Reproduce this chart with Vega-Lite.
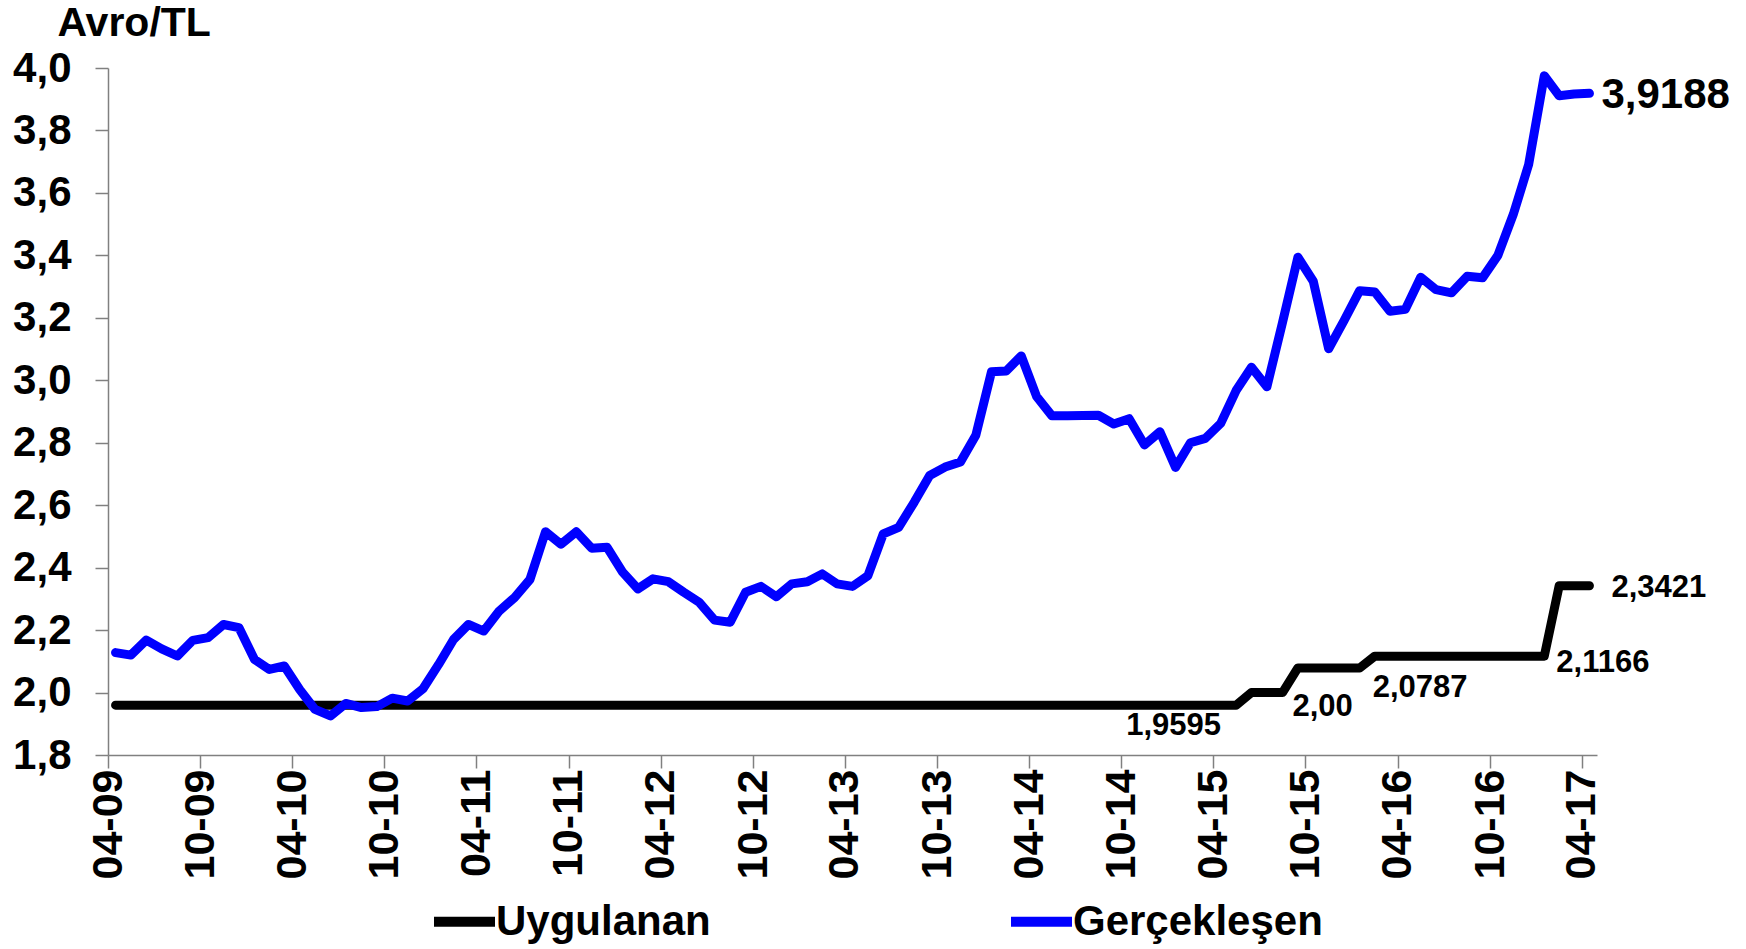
{
  "$schema": "https://vega.github.io/schema/vega-lite/v6.json",
  "width": 1489,
  "height": 687,
  "autosize": {"type": "none"},
  "padding": {"left": 108, "top": 68, "right": 149, "bottom": 194},
  "background": "white",
  "config": {
    "font": "Liberation Sans",
    "view": {"stroke": null},
    "axis": {"grid": false, "labelColor": "black", "labelFontWeight": "bold", "domainColor": "#808080", "tickColor": "#808080", "domainWidth": 1.5, "tickWidth": 1.5}
  },
  "datasets": {
    "kur": [
      {"date": "2009-04", "Uygulanan": 1.9595, "Gerçekleşen": 2.128},
      {"date": "2009-05", "Uygulanan": 1.9595, "Gerçekleşen": 2.120},
      {"date": "2009-06", "Uygulanan": 1.9595, "Gerçekleşen": 2.168},
      {"date": "2009-07", "Uygulanan": 1.9595, "Gerçekleşen": 2.140},
      {"date": "2009-08", "Uygulanan": 1.9595, "Gerçekleşen": 2.117},
      {"date": "2009-09", "Uygulanan": 1.9595, "Gerçekleşen": 2.167},
      {"date": "2009-10", "Uygulanan": 1.9595, "Gerçekleşen": 2.176},
      {"date": "2009-11", "Uygulanan": 1.9595, "Gerçekleşen": 2.218},
      {"date": "2009-12", "Uygulanan": 1.9595, "Gerçekleşen": 2.208},
      {"date": "2010-01", "Uygulanan": 1.9595, "Gerçekleşen": 2.106},
      {"date": "2010-02", "Uygulanan": 1.9595, "Gerçekleşen": 2.074},
      {"date": "2010-03", "Uygulanan": 1.9595, "Gerçekleşen": 2.085},
      {"date": "2010-04", "Uygulanan": 1.9595, "Gerçekleşen": 2.010},
      {"date": "2010-05", "Uygulanan": 1.9595, "Gerçekleşen": 1.946},
      {"date": "2010-06", "Uygulanan": 1.9595, "Gerçekleşen": 1.925},
      {"date": "2010-07", "Uygulanan": 1.9595, "Gerçekleşen": 1.965},
      {"date": "2010-08", "Uygulanan": 1.9595, "Gerçekleşen": 1.952},
      {"date": "2010-09", "Uygulanan": 1.9595, "Gerçekleşen": 1.955},
      {"date": "2010-10", "Uygulanan": 1.9595, "Gerçekleşen": 1.982},
      {"date": "2010-11", "Uygulanan": 1.9595, "Gerçekleşen": 1.973},
      {"date": "2010-12", "Uygulanan": 1.9595, "Gerçekleşen": 2.012},
      {"date": "2011-01", "Uygulanan": 1.9595, "Gerçekleşen": 2.090},
      {"date": "2011-02", "Uygulanan": 1.9595, "Gerçekleşen": 2.170},
      {"date": "2011-03", "Uygulanan": 1.9595, "Gerçekleşen": 2.218},
      {"date": "2011-04", "Uygulanan": 1.9595, "Gerçekleşen": 2.197},
      {"date": "2011-05", "Uygulanan": 1.9595, "Gerçekleşen": 2.261},
      {"date": "2011-06", "Uygulanan": 1.9595, "Gerçekleşen": 2.304},
      {"date": "2011-07", "Uygulanan": 1.9595, "Gerçekleşen": 2.362},
      {"date": "2011-08", "Uygulanan": 1.9595, "Gerçekleşen": 2.515},
      {"date": "2011-09", "Uygulanan": 1.9595, "Gerçekleşen": 2.475},
      {"date": "2011-10", "Uygulanan": 1.9595, "Gerçekleşen": 2.515},
      {"date": "2011-11", "Uygulanan": 1.9595, "Gerçekleşen": 2.462},
      {"date": "2011-12", "Uygulanan": 1.9595, "Gerçekleşen": 2.465},
      {"date": "2012-01", "Uygulanan": 1.9595, "Gerçekleşen": 2.385},
      {"date": "2012-02", "Uygulanan": 1.9595, "Gerçekleşen": 2.332},
      {"date": "2012-03", "Uygulanan": 1.9595, "Gerçekleşen": 2.364},
      {"date": "2012-04", "Uygulanan": 1.9595, "Gerçekleşen": 2.355},
      {"date": "2012-05", "Uygulanan": 1.9595, "Gerçekleşen": 2.321},
      {"date": "2012-06", "Uygulanan": 1.9595, "Gerçekleşen": 2.289},
      {"date": "2012-07", "Uygulanan": 1.9595, "Gerçekleşen": 2.232},
      {"date": "2012-08", "Uygulanan": 1.9595, "Gerçekleşen": 2.225},
      {"date": "2012-09", "Uygulanan": 1.9595, "Gerçekleşen": 2.321},
      {"date": "2012-10", "Uygulanan": 1.9595, "Gerçekleşen": 2.340},
      {"date": "2012-11", "Uygulanan": 1.9595, "Gerçekleşen": 2.307},
      {"date": "2012-12", "Uygulanan": 1.9595, "Gerçekleşen": 2.348},
      {"date": "2013-01", "Uygulanan": 1.9595, "Gerçekleşen": 2.355},
      {"date": "2013-02", "Uygulanan": 1.9595, "Gerçekleşen": 2.380},
      {"date": "2013-03", "Uygulanan": 1.9595, "Gerçekleşen": 2.348},
      {"date": "2013-04", "Uygulanan": 1.9595, "Gerçekleşen": 2.340},
      {"date": "2013-05", "Uygulanan": 1.9595, "Gerçekleşen": 2.374},
      {"date": "2013-06", "Uygulanan": 1.9595, "Gerçekleşen": 2.508},
      {"date": "2013-07", "Uygulanan": 1.9595, "Gerçekleşen": 2.529},
      {"date": "2013-08", "Uygulanan": 1.9595, "Gerçekleşen": 2.610},
      {"date": "2013-09", "Uygulanan": 1.9595, "Gerçekleşen": 2.695},
      {"date": "2013-10", "Uygulanan": 1.9595, "Gerçekleşen": 2.722},
      {"date": "2013-11", "Uygulanan": 1.9595, "Gerçekleşen": 2.738},
      {"date": "2013-12", "Uygulanan": 1.9595, "Gerçekleşen": 2.824},
      {"date": "2014-01", "Uygulanan": 1.9595, "Gerçekleşen": 3.027},
      {"date": "2014-02", "Uygulanan": 1.9595, "Gerçekleşen": 3.030},
      {"date": "2014-03", "Uygulanan": 1.9595, "Gerçekleşen": 3.078},
      {"date": "2014-04", "Uygulanan": 1.9595, "Gerçekleşen": 2.948},
      {"date": "2014-05", "Uygulanan": 1.9595, "Gerçekleşen": 2.886},
      {"date": "2014-06", "Uygulanan": 1.9595, "Gerçekleşen": 2.886},
      {"date": "2014-07", "Uygulanan": 1.9595, "Gerçekleşen": 2.887},
      {"date": "2014-08", "Uygulanan": 1.9595, "Gerçekleşen": 2.888},
      {"date": "2014-09", "Uygulanan": 1.9595, "Gerçekleşen": 2.860},
      {"date": "2014-10", "Uygulanan": 1.9595, "Gerçekleşen": 2.877},
      {"date": "2014-11", "Uygulanan": 1.9595, "Gerçekleşen": 2.793},
      {"date": "2014-12", "Uygulanan": 1.9595, "Gerçekleşen": 2.835},
      {"date": "2015-01", "Uygulanan": 1.9595, "Gerçekleşen": 2.721},
      {"date": "2015-02", "Uygulanan": 1.9595, "Gerçekleşen": 2.800},
      {"date": "2015-03", "Uygulanan": 1.9595, "Gerçekleşen": 2.814},
      {"date": "2015-04", "Uygulanan": 1.9595, "Gerçekleşen": 2.862},
      {"date": "2015-05", "Uygulanan": 1.9595, "Gerçekleşen": 2.967},
      {"date": "2015-06", "Uygulanan": 2.00, "Gerçekleşen": 3.042},
      {"date": "2015-07", "Uygulanan": 2.00, "Gerçekleşen": 2.979},
      {"date": "2015-08", "Uygulanan": 2.00, "Gerçekleşen": 3.185},
      {"date": "2015-09", "Uygulanan": 2.0787, "Gerçekleşen": 3.394},
      {"date": "2015-10", "Uygulanan": 2.0787, "Gerçekleşen": 3.317},
      {"date": "2015-11", "Uygulanan": 2.0787, "Gerçekleşen": 3.101},
      {"date": "2015-12", "Uygulanan": 2.0787, "Gerçekleşen": 3.191},
      {"date": "2016-01", "Uygulanan": 2.0787, "Gerçekleşen": 3.287},
      {"date": "2016-02", "Uygulanan": 2.1166, "Gerçekleşen": 3.283},
      {"date": "2016-03", "Uygulanan": 2.1166, "Gerçekleşen": 3.221},
      {"date": "2016-04", "Uygulanan": 2.1166, "Gerçekleşen": 3.227},
      {"date": "2016-05", "Uygulanan": 2.1166, "Gerçekleşen": 3.330},
      {"date": "2016-06", "Uygulanan": 2.1166, "Gerçekleşen": 3.290},
      {"date": "2016-07", "Uygulanan": 2.1166, "Gerçekleşen": 3.280},
      {"date": "2016-08", "Uygulanan": 2.1166, "Gerçekleşen": 3.333},
      {"date": "2016-09", "Uygulanan": 2.1166, "Gerçekleşen": 3.328},
      {"date": "2016-10", "Uygulanan": 2.1166, "Gerçekleşen": 3.400},
      {"date": "2016-11", "Uygulanan": 2.1166, "Gerçekleşen": 3.531},
      {"date": "2016-12", "Uygulanan": 2.1166, "Gerçekleşen": 3.691},
      {"date": "2017-01", "Uygulanan": 2.1166, "Gerçekleşen": 3.975},
      {"date": "2017-02", "Uygulanan": 2.3421, "Gerçekleşen": 3.911},
      {"date": "2017-03", "Uygulanan": 2.3421, "Gerçekleşen": 3.917},
      {"date": "2017-04", "Uygulanan": 2.3421, "Gerçekleşen": 3.9188}
    ],
    "etiket": [
      {"date": "2017-04", "value": 3.9188, "label": "3,9188"},
      {"date": "2017-04", "value": 2.3421, "label": "2,3421"},
      {"date": "2017-01", "value": 2.1166, "label": "2,1166"},
      {"date": "2016-01", "value": 2.0787, "label": "2,0787"},
      {"date": "2015-08", "value": 2.00, "label": "2,00"},
      {"date": "2015-05", "value": 1.9595, "label": "1,9595"}
    ]
  },
  "encoding": {
    "x": {
      "field": "date", "type": "temporal", "timeUnit": "utcyearmonth", "bandPosition": 0.5,
      "scale": {"type": "utc", "domain": [{"year": 2009, "month": 4, "date": 1, "utc": true}, {"year": 2017, "month": 5, "date": 1, "utc": true}], "nice": false},
      "axis": {
        "title": null,
        "values": [
          {"year": 2009, "month": 4, "date": 1, "utc": true}, {"year": 2009, "month": 10, "date": 1, "utc": true},
          {"year": 2010, "month": 4, "date": 1, "utc": true}, {"year": 2010, "month": 10, "date": 1, "utc": true},
          {"year": 2011, "month": 4, "date": 1, "utc": true}, {"year": 2011, "month": 10, "date": 1, "utc": true},
          {"year": 2012, "month": 4, "date": 1, "utc": true}, {"year": 2012, "month": 10, "date": 1, "utc": true},
          {"year": 2013, "month": 4, "date": 1, "utc": true}, {"year": 2013, "month": 10, "date": 1, "utc": true},
          {"year": 2014, "month": 4, "date": 1, "utc": true}, {"year": 2014, "month": 10, "date": 1, "utc": true},
          {"year": 2015, "month": 4, "date": 1, "utc": true}, {"year": 2015, "month": 10, "date": 1, "utc": true},
          {"year": 2016, "month": 4, "date": 1, "utc": true}, {"year": 2016, "month": 10, "date": 1, "utc": true},
          {"year": 2017, "month": 4, "date": 1, "utc": true}
        ],
        "labelExpr": "utcFormat(datum.value, '%m-%y')",
        "labelAngle": 270,
        "labelFontSize": 43,
        "labelPadding": 1,
        "tickSize": 13,
        "labelOverlap": false,
        "labelFlush": false,
        "labelBound": false
      }
    },
    "y": {
      "type": "quantitative",
      "scale": {"domain": [1.8, 4.0], "nice": false, "zero": false},
      "axis": {
        "title": "Avro/TL",
        "titleAngle": 0,
        "titleX": -51,
        "titleY": -65,
        "titleAlign": "left",
        "titleBaseline": "top",
        "titleFontSize": 41,
        "titleFontWeight": "bold",
        "titleColor": "black",
        "values": [1.8, 2.0, 2.2, 2.4, 2.6, 2.8, 3.0, 3.2, 3.4, 3.6, 3.8, 4.0],
        "labelExpr": "replace(format(datum.value, '.1f'), '.', ',')",
        "labelFontSize": 42,
        "labelPadding": 24,
        "tickSize": 13,
        "labelOverlap": false,
        "labelFlush": false
      }
    }
  },
  "layer": [
    {
      "data": {"name": "kur"},
      "transform": [{"fold": ["Uygulanan", "Gerçekleşen"], "as": ["seri", "deger"]}],
      "mark": {"type": "line", "strokeWidth": 9, "strokeCap": "round", "strokeJoin": "round"},
      "encoding": {
        "y": {"field": "deger", "type": "quantitative"},
        "color": {
          "field": "seri", "type": "nominal",
          "scale": {"domain": ["Uygulanan", "Gerçekleşen"], "range": ["#000000", "#0000FF"]},
          "legend": {
            "title": null,
            "orient": "none",
            "direction": "horizontal",
            "legendX": 321,
            "legendY": 818,
            "symbolType": "stroke",
            "symbolSize": 3721,
            "symbolStrokeWidth": 10,
            "labelFontSize": 42,
            "labelFontWeight": "bold",
            "labelColor": "black",
            "labelOffset": -4,
            "columnPadding": 280,
            "labelLimit": 400
          }
        }
      }
    },
    {
      "data": {"name": "etiket"},
      "transform": [{"filter": "datum.label === '3,9188'"}],
      "mark": {"type": "text", "align": "left", "baseline": "middle", "dx": 12, "dy": 2, "fontSize": 42, "fontWeight": "bold", "color": "black"},
      "encoding": {"y": {"field": "value", "type": "quantitative"}, "text": {"field": "label"}}
    },
    {
      "data": {"name": "etiket"},
      "transform": [{"filter": "datum.label === '2,3421'"}],
      "mark": {"type": "text", "align": "left", "baseline": "middle", "dx": 22, "dy": 2, "fontSize": 31, "fontWeight": "bold", "color": "black"},
      "encoding": {"y": {"field": "value", "type": "quantitative"}, "text": {"field": "label"}}
    },
    {
      "data": {"name": "etiket"},
      "transform": [{"filter": "datum.label === '2,1166'"}],
      "mark": {"type": "text", "align": "left", "baseline": "middle", "dx": 12, "dy": 7, "fontSize": 31, "fontWeight": "bold", "color": "black"},
      "encoding": {"y": {"field": "value", "type": "quantitative"}, "text": {"field": "label"}}
    },
    {
      "data": {"name": "etiket"},
      "transform": [{"filter": "datum.label === '2,0787'"}],
      "mark": {"type": "text", "align": "left", "baseline": "middle", "dx": 13, "dy": 20, "fontSize": 31, "fontWeight": "bold", "color": "black"},
      "encoding": {"y": {"field": "value", "type": "quantitative"}, "text": {"field": "label"}}
    },
    {
      "data": {"name": "etiket"},
      "transform": [{"filter": "datum.label === '2,00'"}],
      "mark": {"type": "text", "align": "left", "baseline": "middle", "dx": 10, "dy": 14, "fontSize": 31, "fontWeight": "bold", "color": "black"},
      "encoding": {"y": {"field": "value", "type": "quantitative"}, "text": {"field": "label"}}
    },
    {
      "data": {"name": "etiket"},
      "transform": [{"filter": "datum.label === '1,9595'"}],
      "mark": {"type": "text", "align": "right", "baseline": "middle", "dx": -15, "dy": 21, "fontSize": 31, "fontWeight": "bold", "color": "black"},
      "encoding": {"y": {"field": "value", "type": "quantitative"}, "text": {"field": "label"}}
    }
  ]
}
